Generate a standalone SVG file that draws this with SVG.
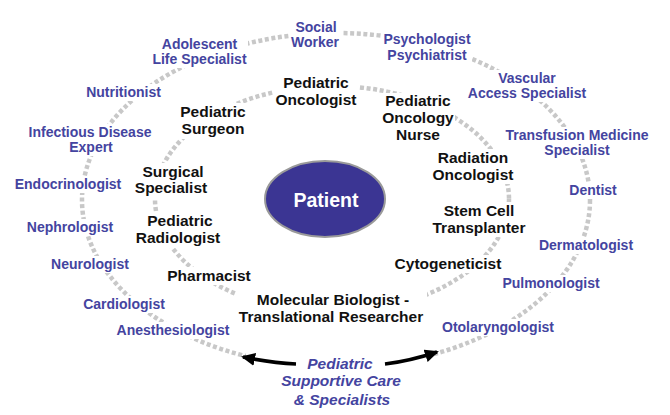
<svg xmlns="http://www.w3.org/2000/svg" width="670" height="415" viewBox="0 0 670 415">
<defs>
<style>
.ring{fill:none;stroke:#c8c8c8;stroke-width:4.5;stroke-dasharray:4 2.6}
.bg{fill:#fff}
.o{font-family:"Liberation Sans",Arial,sans-serif;font-weight:bold;font-size:14px;fill:#4444a0;text-anchor:middle}
.i{font-family:"Liberation Sans",Arial,sans-serif;font-weight:bold;font-size:15.5px;fill:#111;text-anchor:middle}
.it{font-family:"Liberation Sans",Arial,sans-serif;font-weight:bold;font-style:italic;font-size:15.5px;fill:#4444a0;text-anchor:middle}
.arr{fill:none;stroke:#000;stroke-width:3.5}
</style>
<marker id="ah" markerUnits="userSpaceOnUse" markerWidth="14" markerHeight="13" refX="12" refY="6.5" orient="auto">
<path d="M0,0 L14,6.5 L0,13 z" fill="#000"/>
</marker>
</defs>
<rect width="670" height="415" fill="#fff"/>
<g id="rings">
<ellipse class="ring" cx="336" cy="200" rx="254" ry="167"/>
<ellipse class="ring" cx="332" cy="199" rx="177" ry="113"/>
</g>
<g id="patient">
<ellipse cx="325" cy="199" rx="60" ry="38" fill="#3b3593" stroke="#9a9a9a" stroke-width="2"/>
<text x="326" y="207" font-family="Liberation Sans,Arial,sans-serif" font-weight="bold" font-size="19.5" fill="#fff" text-anchor="middle">Patient</text>
</g>
<g id="social-worker"><rect class="bg" x="290" y="19" width="51" height="32"/><text class="o" x="316" y="32">Social</text><text class="o" x="315" y="47">Worker</text></g>
<g id="psychologist"><rect class="bg" x="382" y="31" width="90" height="33"/><text class="o" x="427" y="44">Psychologist</text><text class="o" x="427" y="60">Psychiatrist</text></g>
<g id="vascular"><rect class="bg" x="464" y="70" width="127" height="32"/><text class="o" x="527" y="83">Vascular</text><text class="o" x="527" y="98">Access Specialist</text></g>
<g id="transfusion"><rect class="bg" x="504" y="127" width="146" height="32"/><text class="o" x="577" y="140">Transfusion Medicine</text><text class="o" x="577" y="155">Specialist</text></g>
<g id="dentist"><rect class="bg" x="568" y="182" width="50" height="17"/><text class="o" x="593" y="195">Dentist</text></g>
<g id="dermatologist"><rect class="bg" x="535" y="237" width="102" height="17"/><text class="o" x="586" y="250">Dermatologist</text></g>
<g id="pulmonologist"><rect class="bg" x="499" y="275" width="105" height="17"/><text class="o" x="551" y="288">Pulmonologist</text></g>
<g id="otolaryngologist"><rect class="bg" x="441" y="319" width="115" height="17"/><text class="o" x="498" y="332">Otolaryngologist</text></g>
<g id="adolescent"><rect class="bg" x="151" y="36" width="97" height="32"/><text class="o" x="199.5" y="49">Adolescent</text><text class="o" x="199.5" y="64">Life Specialist</text></g>
<g id="nutritionist"><rect class="bg" x="85" y="84" width="77" height="17"/><text class="o" x="123.5" y="97">Nutritionist</text></g>
<g id="infectious"><rect class="bg" x="28" y="124" width="125" height="32"/><text class="o" x="90" y="137">Infectious Disease</text><text class="o" x="91" y="152">Expert</text></g>
<g id="endocrinologist"><rect class="bg" x="14" y="176" width="109" height="17"/><text class="o" x="68" y="189">Endocrinologist</text></g>
<g id="nephrologist"><rect class="bg" x="26" y="219" width="89" height="17"/><text class="o" x="70" y="232">Nephrologist</text></g>
<g id="neurologist"><rect class="bg" x="50" y="256" width="80" height="17"/><text class="o" x="90" y="269">Neurologist</text></g>
<g id="cardiologist"><rect class="bg" x="82" y="296" width="84" height="17"/><text class="o" x="124" y="309">Cardiologist</text></g>
<g id="anesthesiologist"><rect class="bg" x="116" y="322" width="115" height="17"/><text class="o" x="173" y="335">Anesthesiologist</text></g>
<g id="ped-oncologist"><rect class="bg" x="274" y="75" width="84" height="35"/><text class="i" x="316" y="88">Pediatric</text><text class="i" x="316" y="105">Oncologist</text></g>
<g id="ped-onc-nurse"><rect class="bg" x="382" y="93" width="73" height="52"/><text class="i" x="418" y="106">Pediatric</text><text class="i" x="418" y="123">Oncology</text><text class="i" x="418" y="140">Nurse</text></g>
<g id="radiation"><rect class="bg" x="431" y="149" width="84" height="35"/><text class="i" x="473" y="162.5">Radiation</text><text class="i" x="473" y="180">Oncologist</text></g>
<g id="stem-cell"><rect class="bg" x="431" y="202" width="97" height="35"/><text class="i" x="479" y="216">Stem Cell</text><text class="i" x="479" y="233">Transplanter</text></g>
<g id="cytogeneticist"><rect class="bg" x="393" y="255" width="110" height="18"/><text class="i" x="448" y="269">Cytogeneticist</text></g>
<g id="molecular"><rect class="bg" x="236" y="291" width="191" height="36"/><text class="i" x="333" y="305">Molecular Biologist -</text><text class="i" x="331" y="322">Translational Researcher</text></g>
<g id="pharmacist"><rect class="bg" x="166" y="267" width="87" height="18"/><text class="i" x="209" y="281">Pharmacist</text></g>
<g id="ped-radiologist"><rect class="bg" x="135" y="212" width="88" height="36"/><text class="i" x="180" y="226">Pediatric</text><text class="i" x="178" y="243">Radiologist</text></g>
<g id="surgical"><rect class="bg" x="134" y="163" width="76" height="35"/><text class="i" x="173" y="177">Surgical</text><text class="i" x="171" y="193">Specialist</text></g>
<g id="ped-surgeon"><rect class="bg" x="178" y="103" width="70" height="36"/><text class="i" x="213" y="117">Pediatric</text><text class="i" x="213" y="134">Surgeon</text></g>
<g id="supportive"><rect class="bg" x="246" y="345" width="188" height="65"/><text class="it" x="340" y="369">Pediatric</text><text class="it" x="341" y="386">Supportive Care</text><text class="it" x="342" y="405">&amp; Specialists</text></g>
<g id="connectors">
<path class="arr" d="M296,364 Q272,363 243,357" marker-end="url(#ah)"/>
<path class="arr" d="M385,364 Q410,361 437,352" marker-end="url(#ah)"/>
</g>
</svg>
